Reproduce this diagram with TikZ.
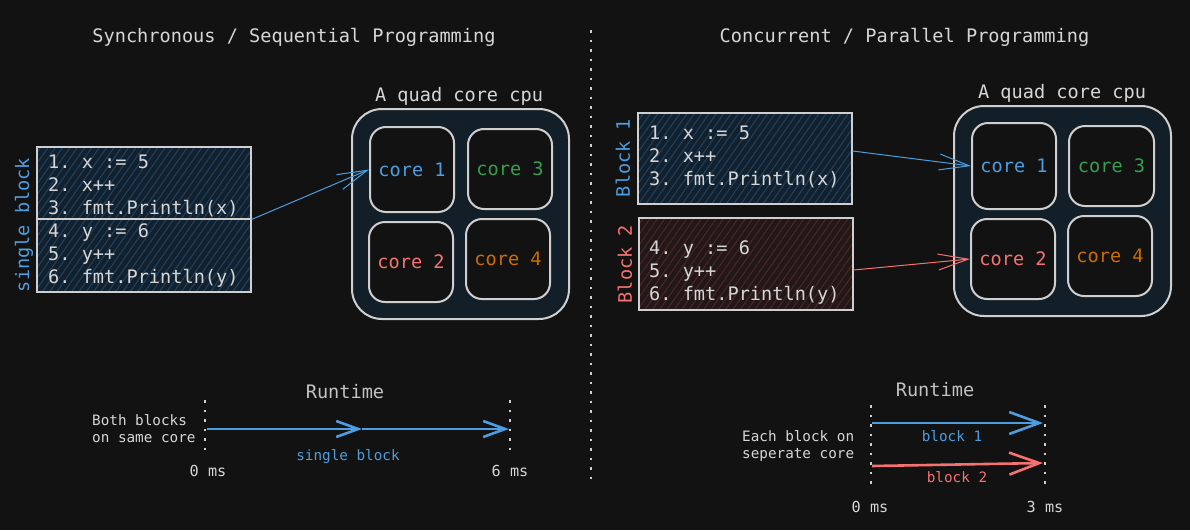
\documentclass[tikz,border=0pt]{standalone}
\usepackage{fontspec}
\setmainfont{DejaVu Sans Mono}
\frenchspacing
\usetikzlibrary{arrows.meta,patterns.meta}
\definecolor{bg}{HTML}{121212}
\definecolor{fg}{HTML}{D6D6D6}
\definecolor{dim}{HTML}{C2C2C2}
\definecolor{edge}{HTML}{CFCFCF}
\definecolor{cpufill}{HTML}{131F28}
\definecolor{cblue}{HTML}{4D9DE0}
\definecolor{cred}{HTML}{F87171}
\definecolor{cgreen}{HTML}{379F4B}
\definecolor{corange}{HTML}{CC6D00}
\definecolor{bfill}{HTML}{13212E}
\definecolor{bhatch}{HTML}{1F4363}
\definecolor{rfill}{HTML}{221818}
\definecolor{rhatch}{HTML}{4E2626}
\begin{document}
\begin{tikzpicture}[x=1pt,y=-1pt,
  big/.style={font=\fontsize{18.6}{22}\selectfont},
  small/.style={font=\fontsize{14.3}{17}\selectfont},
  mid/.style={font=\fontsize{15.2}{18}\selectfont},
  codebox/.style={draw=edge, line width=1.3pt, inner sep=0pt},
  bluebox/.style={codebox, preaction={fill=bfill}, pattern={Lines[angle=55,distance=6pt,line width=1pt]}, pattern color=bhatch},
  redbox/.style={codebox, preaction={fill=rfill}, pattern={Lines[angle=55,distance=6pt,line width=1pt]}, pattern color=rhatch},
  code/.style={big, text=fg, anchor=base west, inner sep=0pt},
  cpu/.style={draw=edge, line width=2pt, fill=cpufill, rounded corners=30pt, minimum width=217pt, minimum height=210pt, inner sep=0pt},
  core/.style={draw=edge, line width=2pt, fill=bg, rounded corners=16pt, inner sep=0pt, big},
  dots/.style={draw=edge, line width=2pt, dash pattern=on 2.5pt off 7pt},
  conn/.style={line width=1pt, -{Straight Barb[length=30pt,width=16pt]}},
  tl/.style={line width=2.6pt, -{Straight Barb[length=22pt,width=16pt]}},
  tlr/.style={line width=2.6pt, -{Straight Barb[length=30pt,width=22pt]}},
  lbl/.style={text=fg, anchor=base, inner sep=0pt}
]
\useasboundingbox (0,0) rectangle (1190,530);
\fill[bg] (0,0) rectangle (1190,530);

% titles and divider
\node[big, lbl] (t1) at (294,42) {Synchronous / Sequential Programming};
\node[big, lbl] (t2) at (904.5,42) {Concurrent / Parallel Programming};
\coordinate (dvt) at (591,30);
\coordinate (dvb) at (591,485);
\draw[dots] (dvt) -- (dvb);

% ---------- left: code blocks ----------
\node[bluebox, minimum width=214pt, minimum height=72pt] (lb1) at (144,183) {};
\node[bluebox, minimum width=214pt, minimum height=73pt] (lb2) at (144,255.5) {};
\node[code] (l1) at (48,168) {1. x := 5};
\node[code] (l2) at (48,191) {2. x++};
\node[code] (l3) at (48,214) {3. fmt.Println(x)};
\node[code] (l4) at (48,237) {4. y := 6};
\node[code] (l5) at (48,260) {5. y++};
\node[code] (l6) at (48,283) {6. fmt.Println(y)};
\node[big, text=cblue, rotate=90, inner sep=0pt] (sb) at (24,225) {single block};

% left cpu
\node[big, lbl] (lq) at (459,101.5) {A quad core cpu};
\node[cpu] (lcpu) at (460.5,214) {};
\node[core, minimum width=84pt, minimum height=85pt, text=cblue] (lc1) at (412,169.5) {core 1};
\node[core, minimum width=84pt, minimum height=80pt, text=cgreen] (lc3) at (510,169) {core 3};
\node[core, minimum width=84pt, minimum height=80pt, text=cred] (lc2) at (411,262) {core 2};
\node[core, minimum width=84pt, minimum height=80pt, text=corange] (lc4) at (508,259) {core 4};

\draw[conn, cblue] (lb1.south east) -- (lc1.west);

% ---------- right: code blocks ----------
\node[bluebox, minimum width=214pt, minimum height=91pt] (rb1) at (745,158.5) {};
\node[redbox, minimum width=214pt, minimum height=92pt] (rb2) at (746,264) {};
\node[code] (r1) at (649,139.5) {1. x := 5};
\node[code] (r2) at (649,162.5) {2. x++};
\node[code] (r3) at (649,185.5) {3. fmt.Println(x)};
\node[code] (r4) at (649,254.5) {4. y := 6};
\node[code] (r5) at (649,277.5) {5. y++};
\node[code] (r6) at (649,300.5) {6. fmt.Println(y)};
\node[big, text=cblue, rotate=90, inner sep=0pt] (bk1) at (623,158) {Block 1};
\node[big, text=cred, rotate=90, inner sep=0pt] (bk2) at (625,264) {Block 2};

% right cpu
\node[big, lbl] (rq) at (1062,98) {A quad core cpu};
\node[cpu] (rcpu) at (1062.5,211) {};
\node[core, minimum width=84pt, minimum height=86pt, text=cblue] (rc1) at (1014,166) {core 1};
\node[core, minimum width=85pt, minimum height=80pt, text=cgreen] (rc3) at (1111.5,166) {core 3};
\node[core, minimum width=84pt, minimum height=80pt, text=cred] (rc2) at (1013,259) {core 2};
\node[core, minimum width=84pt, minimum height=80pt, text=corange] (rc4) at (1110,256) {core 4};

\draw[conn, cblue] ([yshift=7.5pt]rb1.east) -- (rc1.west);
\draw[conn, cred] ([yshift=-6pt]rb2.east) -- (rc2.west);

% ---------- bottom left runtime ----------
\node[big, lbl, text=dim] (rt1) at (345,398) {Runtime};
\coordinate (a0t) at (205,400); \coordinate (a0b) at (205,453);
\coordinate (a1t) at (510,400); \coordinate (a1b) at (510,453);
\draw[dots] (a0t) -- (a0b);
\draw[dots] (a1t) -- (a1b);
\coordinate (s0) at (207,429);
\coordinate (sm) at (362,429);
\coordinate (s1) at (509,429);
\draw[tl, cblue] (s0) -- (sm);
\draw[tl, cblue] (sm) -- (s1);
\node[small, text=fg, anchor=base west, inner sep=0pt] (bb1) at (92,425.5) {Both blocks};
\node[small, text=fg, anchor=base west, inner sep=0pt] (bb2) at (92,442.5) {on same core};
\node[small, lbl, text=cblue] (sbl) at (348,460) {single block};
\node[mid, lbl] (z0) at (208,476.5) {0 ms};
\node[mid, lbl] (z6) at (510,476.5) {6 ms};

% ---------- bottom right runtime ----------
\node[big, lbl, text=dim] (rt2) at (935,396.5) {Runtime};
\coordinate (b0t) at (871,405); \coordinate (b0b) at (871,490);
\coordinate (b1t) at (1045,405); \coordinate (b1b) at (1045,490);
\draw[dots] (b0t) -- (b0b);
\draw[dots] (b1t) -- (b1b);
\coordinate (p0) at (872,423);
\coordinate (p1) at (1043,423);
\coordinate (q0) at (872,466);
\coordinate (q1) at (1043,463);
\draw[tlr, cblue] (p0) -- (p1);
\draw[tlr, cred] (q0) -- (q1);
\node[small, lbl, text=cblue] (bl1) at (952,441) {block 1};
\node[small, lbl, text=cred] (bl2) at (957,482) {block 2};
\node[small, text=fg, anchor=base west, inner sep=0pt] (eb1) at (742,441.5) {Each block on};
\node[small, text=fg, anchor=base west, inner sep=0pt] (eb2) at (742,458) {seperate core};
\node[mid, lbl] (y0) at (870,512.5) {0 ms};
\node[mid, lbl] (y3) at (1045,512.5) {3 ms};
\end{tikzpicture}
\end{document}
